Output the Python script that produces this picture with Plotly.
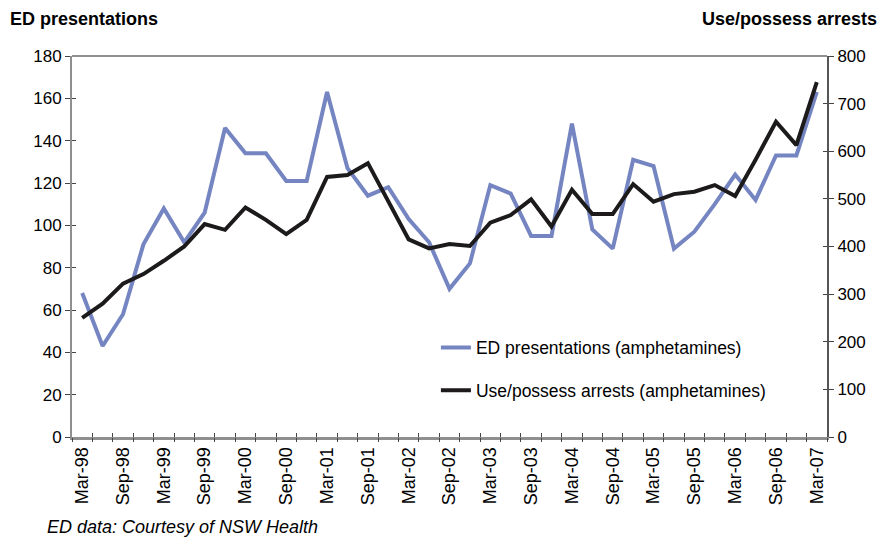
import plotly.graph_objects as go

quarters = [
    "Mar-98", "Jun-98", "Sep-98", "Dec-98",
    "Mar-99", "Jun-99", "Sep-99", "Dec-99",
    "Mar-00", "Jun-00", "Sep-00", "Dec-00",
    "Mar-01", "Jun-01", "Sep-01", "Dec-01",
    "Mar-02", "Jun-02", "Sep-02", "Dec-02",
    "Mar-03", "Jun-03", "Sep-03", "Dec-03",
    "Mar-04", "Jun-04", "Sep-04", "Dec-04",
    "Mar-05", "Jun-05", "Sep-05", "Dec-05",
    "Mar-06", "Jun-06", "Sep-06", "Dec-06",
    "Mar-07",
]

ed_presentations = [68, 43, 58, 91, 108, 92, 106, 146, 134, 134, 121, 121,
                    163, 127, 114, 118, 103, 92, 70, 82, 119, 115, 95, 95,
                    148, 98, 89, 131, 128, 89, 97, 110, 124, 112, 133, 133,
                    163]

use_possess_arrests = [250, 280, 322, 342, 370, 400, 447, 435, 482, 456, 426, 456,
                       546, 550, 575, 495, 415, 396, 405, 401, 450, 466, 499, 442,
                       519, 468, 468, 531, 494, 510, 515, 529, 506, 582, 662, 613,
                       745]

tick_labels = quarters[::2]

left_ticks = list(range(0, 181, 20))
right_ticks = list(range(0, 801, 100))

BLUE = "#7585C1"
BLACK = "#1c1a1a"
GREY = "#8f8f8f"
FONT = "Liberation Sans, Arial, sans-serif"

n = len(quarters)
boundaries = [i - 0.5 for i in range(n + 1)]

fig = go.Figure()
fig.add_trace(go.Scatter(
    x=quarters, y=ed_presentations, mode="lines",
    name="ED presentations (amphetamines)",
    line=dict(color=BLUE, width=4), yaxis="y", xaxis="x",
    legendgroup="a",
))
fig.add_trace(go.Scatter(
    x=quarters, y=use_possess_arrests, mode="lines",
    name="Use/possess arrests (amphetamines)",
    line=dict(color=BLACK, width=4), yaxis="y2", xaxis="x",
    legendgroup="b",
))

fig.update_layout(
    width=885, height=537,
    margin=dict(l=72, r=58, t=56, b=100),
    paper_bgcolor="white", plot_bgcolor="white",
    font=dict(family=FONT, size=16, color="black"),
    xaxis=dict(
        type="category", categoryorder="array", categoryarray=quarters,
        range=[-0.5, n - 0.5],
        tickmode="array", tickvals=tick_labels, ticktext=tick_labels,
        tickangle=-90, tickfont=dict(size=18),
        ticks="", showgrid=False, zeroline=False,
        showline=True, linecolor=GREY, linewidth=3,
        fixedrange=True,
    ),
    xaxis2=dict(
        overlaying="x", anchor="y", range=[-0.5, n - 0.5],
        tickmode="array", tickvals=boundaries, showticklabels=False,
        ticks="outside", ticklen=4, tickcolor="#444", tickwidth=1,
        showgrid=False, zeroline=False, showline=False,
    ),
    xaxis3=dict(
        overlaying="x", anchor="y", range=[-0.5, n - 0.5],
        tickmode="array", tickvals=boundaries, showticklabels=False,
        ticks="inside", ticklen=4, tickcolor="#444", tickwidth=1,
        showgrid=False, zeroline=False, showline=False,
    ),
    yaxis=dict(
        range=[0, 180], tickmode="array", tickvals=left_ticks,
        ticks="outside", ticklen=5, tickcolor="#444", tickwidth=1,
        showgrid=False, zeroline=False,
        showline=True, linecolor=GREY, linewidth=2,
        tickfont=dict(size=17), fixedrange=True,
    ),
    yaxis2=dict(
        overlaying="y", side="right", anchor="x",
        range=[0, 800], tickmode="array", tickvals=right_ticks,
        ticks="outside", ticklen=5, tickcolor="#444", tickwidth=1,
        showgrid=False, zeroline=False,
        showline=True, linecolor="#555555", linewidth=2,
        tickfont=dict(size=17), fixedrange=True,
    ),
    yaxis3=dict(
        overlaying="y", side="left", anchor="x",
        range=[0, 180], tickmode="array", tickvals=left_ticks,
        ticks="inside", ticklen=4, tickcolor="#444", tickwidth=1,
        showticklabels=False, showgrid=False, zeroline=False, showline=False,
    ),
    yaxis4=dict(
        overlaying="y", side="right", anchor="x",
        range=[0, 800], tickmode="array", tickvals=right_ticks,
        ticks="inside", ticklen=4, tickcolor="#444", tickwidth=1,
        showticklabels=False, showgrid=False, zeroline=False, showline=False,
    ),
    legend=dict(
        x=0.482, y=0.282, xanchor="left", yanchor="top",
        bgcolor="rgba(0,0,0,0)", borderwidth=0,
        font=dict(size=17.5), traceorder="grouped", tracegroupgap=17,
    ),
    showlegend=True,
)

# invisible traces that activate the overlay tick axes
for xa, ya in [("x2", "y"), ("x3", "y"), ("x", "y3"), ("x", "y4")]:
    fig.add_trace(go.Scatter(x=[None], y=[None], xaxis=xa, yaxis=ya,
                             showlegend=False, hoverinfo="skip"))

# top border of plot area
fig.add_shape(type="line", xref="paper", yref="paper", x0=0, x1=1, y0=1, y1=1,
              line=dict(color=GREY, width=2))

fig.add_annotation(text="<b>ED presentations</b>", xref="paper", yref="paper",
                   x=0, y=1.0, yshift=37, xshift=-64, xanchor="left", yanchor="middle",
                   showarrow=False, font=dict(size=18, family=FONT))
fig.add_annotation(text="<b>Use/possess arrests</b>", xref="paper", yref="paper",
                   x=1.0, y=1.0, yshift=37, xshift=52, xanchor="right", yanchor="middle",
                   showarrow=False, font=dict(size=18, family=FONT))
fig.add_annotation(text="<i>ED data: Courtesy of NSW Health</i>", xref="paper", yref="paper",
                   x=0, y=0, xshift=-27, yshift=-90, xanchor="left", yanchor="middle",
                   showarrow=False, font=dict(size=18, family=FONT))

fig.write_html("out.html", config={"displayModeBar": False},
               post_script="document.body.style.margin='0px';")
